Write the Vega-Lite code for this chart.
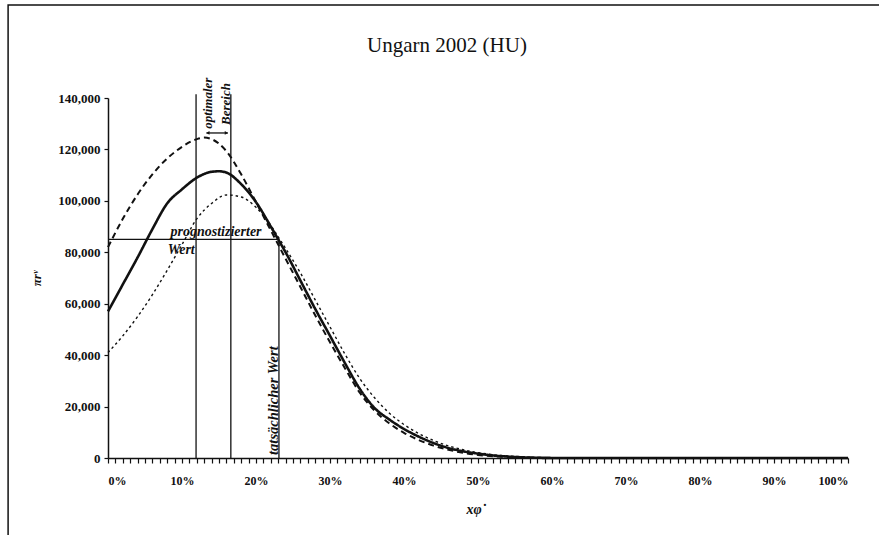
{
  "$schema": "https://vega.github.io/schema/vega-lite/v6.json",
  "width": 740,
  "height": 360,
  "autosize": {"type": "none"},
  "padding": {"left": 108, "top": 98, "right": 31, "bottom": 77},
  "background": "white",
  "config": {
    "view": {"stroke": null},
    "font": "Liberation Serif",
    "axis": {"grid": false, "domainColor": "#111", "tickColor": "#111", "labelColor": "#111", "titleColor": "#111", "labelFont": "Liberation Serif", "titleFont": "Liberation Serif"}
  },
  "title": {
    "text": "Ungarn 2002 (HU)",
    "font": "Liberation Serif",
    "fontSize": 21,
    "fontWeight": "normal",
    "color": "#111",
    "anchor": "middle",
    "frame": "group",
    "baseline": "alphabetic",
    "offset": 0,
    "dy": 69,
    "dx": -31
  },
  "datasets": {
    "curves": [
      {"s": "Ist", "x": 0, "y": 57000}, {"s": "Ist", "x": 0.02, "y": 67500}, {"s": "Ist", "x": 0.04, "y": 78000}, {"s": "Ist", "x": 0.06, "y": 89000}, {"s": "Ist", "x": 0.08, "y": 99000}, {"s": "Ist", "x": 0.10, "y": 104500}, {"s": "Ist", "x": 0.12, "y": 109000}, {"s": "Ist", "x": 0.14, "y": 111300}, {"s": "Ist", "x": 0.15, "y": 111500}, {"s": "Ist", "x": 0.16, "y": 111000}, {"s": "Ist", "x": 0.18, "y": 106500}, {"s": "Ist", "x": 0.20, "y": 99500}, {"s": "Ist", "x": 0.22, "y": 90000}, {"s": "Ist", "x": 0.23, "y": 85000}, {"s": "Ist", "x": 0.24, "y": 80000}, {"s": "Ist", "x": 0.26, "y": 69000}, {"s": "Ist", "x": 0.28, "y": 58000}, {"s": "Ist", "x": 0.30, "y": 47500}, {"s": "Ist", "x": 0.32, "y": 37000}, {"s": "Ist", "x": 0.34, "y": 27000}, {"s": "Ist", "x": 0.36, "y": 19500}, {"s": "Ist", "x": 0.38, "y": 15000}, {"s": "Ist", "x": 0.40, "y": 11300}, {"s": "Ist", "x": 0.42, "y": 8300}, {"s": "Ist", "x": 0.44, "y": 5800}, {"s": "Ist", "x": 0.46, "y": 3900}, {"s": "Ist", "x": 0.48, "y": 2600}, {"s": "Ist", "x": 0.50, "y": 1700}, {"s": "Ist", "x": 0.52, "y": 1000}, {"s": "Ist", "x": 0.55, "y": 400}, {"s": "Ist", "x": 0.58, "y": 100}, {"s": "Ist", "x": 0.62, "y": 0}, {"s": "Ist", "x": 0.70, "y": 0}, {"s": "Ist", "x": 0.80, "y": 0}, {"s": "Ist", "x": 0.90, "y": 0}, {"s": "Ist", "x": 1.0, "y": 0},
      {"s": "Oben", "x": 0, "y": 82000}, {"s": "Oben", "x": 0.02, "y": 93000}, {"s": "Oben", "x": 0.04, "y": 102500}, {"s": "Oben", "x": 0.06, "y": 110300}, {"s": "Oben", "x": 0.08, "y": 116500}, {"s": "Oben", "x": 0.10, "y": 121000}, {"s": "Oben", "x": 0.12, "y": 124000}, {"s": "Oben", "x": 0.13, "y": 124600}, {"s": "Oben", "x": 0.14, "y": 124000}, {"s": "Oben", "x": 0.16, "y": 119300}, {"s": "Oben", "x": 0.18, "y": 110300}, {"s": "Oben", "x": 0.20, "y": 99500}, {"s": "Oben", "x": 0.22, "y": 88500}, {"s": "Oben", "x": 0.23, "y": 83000}, {"s": "Oben", "x": 0.24, "y": 77500}, {"s": "Oben", "x": 0.26, "y": 66500}, {"s": "Oben", "x": 0.28, "y": 55500}, {"s": "Oben", "x": 0.30, "y": 45000}, {"s": "Oben", "x": 0.32, "y": 35000}, {"s": "Oben", "x": 0.34, "y": 25500}, {"s": "Oben", "x": 0.36, "y": 18500}, {"s": "Oben", "x": 0.38, "y": 13500}, {"s": "Oben", "x": 0.40, "y": 9800}, {"s": "Oben", "x": 0.42, "y": 7000}, {"s": "Oben", "x": 0.44, "y": 4800}, {"s": "Oben", "x": 0.46, "y": 3200}, {"s": "Oben", "x": 0.48, "y": 2000}, {"s": "Oben", "x": 0.50, "y": 1200}, {"s": "Oben", "x": 0.52, "y": 700}, {"s": "Oben", "x": 0.55, "y": 250}, {"s": "Oben", "x": 0.58, "y": 50}, {"s": "Oben", "x": 0.62, "y": 0}, {"s": "Oben", "x": 0.70, "y": 0}, {"s": "Oben", "x": 0.80, "y": 0}, {"s": "Oben", "x": 0.90, "y": 0}, {"s": "Oben", "x": 1.0, "y": 0},
      {"s": "Unten", "x": 0, "y": 41000}, {"s": "Unten", "x": 0.02, "y": 47500}, {"s": "Unten", "x": 0.04, "y": 55000}, {"s": "Unten", "x": 0.06, "y": 63500}, {"s": "Unten", "x": 0.08, "y": 73000}, {"s": "Unten", "x": 0.10, "y": 83000}, {"s": "Unten", "x": 0.12, "y": 93000}, {"s": "Unten", "x": 0.14, "y": 99000}, {"s": "Unten", "x": 0.16, "y": 102300}, {"s": "Unten", "x": 0.18, "y": 101500}, {"s": "Unten", "x": 0.20, "y": 97500}, {"s": "Unten", "x": 0.22, "y": 90500}, {"s": "Unten", "x": 0.23, "y": 86000}, {"s": "Unten", "x": 0.24, "y": 81500}, {"s": "Unten", "x": 0.26, "y": 72000}, {"s": "Unten", "x": 0.28, "y": 61500}, {"s": "Unten", "x": 0.30, "y": 51000}, {"s": "Unten", "x": 0.32, "y": 40500}, {"s": "Unten", "x": 0.34, "y": 31000}, {"s": "Unten", "x": 0.36, "y": 23500}, {"s": "Unten", "x": 0.38, "y": 17500}, {"s": "Unten", "x": 0.40, "y": 13000}, {"s": "Unten", "x": 0.42, "y": 9500}, {"s": "Unten", "x": 0.44, "y": 6800}, {"s": "Unten", "x": 0.46, "y": 4700}, {"s": "Unten", "x": 0.48, "y": 3200}, {"s": "Unten", "x": 0.50, "y": 2100}, {"s": "Unten", "x": 0.52, "y": 1300}, {"s": "Unten", "x": 0.55, "y": 600}, {"s": "Unten", "x": 0.58, "y": 200}, {"s": "Unten", "x": 0.62, "y": 50}, {"s": "Unten", "x": 0.66, "y": 0}, {"s": "Unten", "x": 0.70, "y": 0}, {"s": "Unten", "x": 0.80, "y": 0}, {"s": "Unten", "x": 0.90, "y": 0}, {"s": "Unten", "x": 1.0, "y": 0}
    ],
    "frame": [{"x": -0.135, "x2": 1.3, "y": -40000, "y2": 176200}],
    "rules": [
      {"x": 0.119, "x2": 0.119, "y": 0, "y2": 141500},
      {"x": 0.166, "x2": 0.166, "y": 0, "y2": 141500},
      {"x": 0.231, "x2": 0.231, "y": 0, "y2": 85000},
      {"x": 0, "x2": 0.231, "y": 85000, "y2": 85000},
      {"x": 0.133, "x2": 0.162, "y": 126400, "y2": 126400}
    ],
    "headL": [{"x": 0.135, "y": 126400}],
    "headR": [{"x": 0.160, "y": 126400}],
    "rot": [
      {"x": 0.1345, "y": 128000, "t": "optimaler"},
      {"x": 0.159, "y": 129500, "t": "Bereich"}
    ],
    "rot2": [{"x": 0.2245, "y": 1200, "t": "tatsächlicher Wert"}],
    "flat": [
      {"x": 0.146, "y": 87900, "t": "prognostizierter"}
    ],
    "flat2": [
      {"x": 0.099, "y": 80900, "t": "Wert"}
    ]
  },
  "encoding": {
    "x": {
      "field": "x", "type": "quantitative",
      "scale": {"domain": [0, 1], "nice": false, "zero": false},
      "axis": {
        "title": "xφ˙",
        "titleFontSize": 14, "titleFontStyle": "italic", "titleFontWeight": "bold",
        "titleX": 368, "titleY": 55, "titleBaseline": "alphabetic", "titleAlign": "center",
        "values": [0,0.01,0.02,0.03,0.04,0.05,0.06,0.07,0.08,0.09,0.1,0.11,0.12,0.13,0.14,0.15,0.16,0.17,0.18,0.19,0.2,0.21,0.22,0.23,0.24,0.25,0.26,0.27,0.28,0.29,0.3,0.31,0.32,0.33,0.34,0.35,0.36,0.37,0.38,0.39,0.4,0.41,0.42,0.43,0.44,0.45,0.46,0.47,0.48,0.49,0.5,0.51,0.52,0.53,0.54,0.55,0.56,0.57,0.58,0.59,0.6,0.61,0.62,0.63,0.64,0.65,0.66,0.67,0.68,0.69,0.7,0.71,0.72,0.73,0.74,0.75,0.76,0.77,0.78,0.79,0.8,0.81,0.82,0.83,0.84,0.85,0.86,0.87,0.88,0.89,0.9,0.91,0.92,0.93,0.94,0.95,0.96,0.97,0.98,0.99,1],
        "labelExpr": "round(datum.value*100) % 10 === 0 ? format(datum.value, '.0%') : ''",
        "labelOverlap": false,
        "labelFontSize": 12,
        "labelFontWeight": "bold",
        "labelPadding": 12,
        "tickSize": 5,
        "tickWidth": 1.2,
        "domainWidth": 1.5
      }
    },
    "y": {
      "field": "y", "type": "quantitative",
      "scale": {"domain": [0, 140000], "nice": false},
      "axis": {
        "title": "πrᵛ",
        "titleFontSize": 13, "titleFontStyle": "italic", "titleFontWeight": "bold",
        "titleAngle": 270, "titleX": -72, "titleY": 180, "titleAlign": "center", "titleBaseline": "middle",
        "values": [0, 20000, 40000, 60000, 80000, 100000, 120000, 140000],
        "format": ",d",
        "labelFontSize": 13,
        "labelFontWeight": "bold",
        "labelPadding": 4,
        "tickSize": 4,
        "tickWidth": 1.2,
        "domainWidth": 1.5
      }
    }
  },
  "layer": [
    {
      "data": {"name": "frame"},
      "mark": {"type": "rect", "fill": null, "stroke": "#111", "strokeWidth": 1.5},
      "encoding": {"x2": {"field": "x2"}, "y2": {"field": "y2"}}
    },
    {
      "data": {"name": "rules"},
      "mark": {"type": "rule", "color": "#111", "strokeWidth": 1.3},
      "encoding": {"x2": {"field": "x2"}, "y2": {"field": "y2"}}
    },
    {
      "data": {"name": "curves"},
      "mark": {"type": "line", "color": "#111", "interpolate": "monotone"},
      "encoding": {
        "detail": {"field": "s"},
        "strokeDash": {"field": "s", "type": "nominal", "scale": {"domain": ["Ist", "Oben", "Unten"], "range": [[1, 0], [6, 4], [2.5, 3]]}, "legend": null},
        "strokeWidth": {"field": "s", "type": "nominal", "scale": {"domain": ["Ist", "Oben", "Unten"], "range": [2.6, 1.4, 1.5]}, "legend": null}
      }
    },
    {
      "data": {"name": "headL"},
      "mark": {"type": "point", "shape": "triangle-left", "filled": true, "color": "#111", "size": 14, "opacity": 1}
    },
    {
      "data": {"name": "headR"},
      "mark": {"type": "point", "shape": "triangle-right", "filled": true, "color": "#111", "size": 14, "opacity": 1}
    },
    {
      "data": {"name": "rot"},
      "mark": {"type": "text", "angle": 270, "align": "left", "baseline": "middle", "font": "Liberation Serif", "fontSize": 13, "fontStyle": "italic", "fontWeight": "bold", "color": "#111"},
      "encoding": {"text": {"field": "t"}}
    },
    {
      "data": {"name": "rot2"},
      "mark": {"type": "text", "angle": 270, "align": "left", "baseline": "middle", "font": "Liberation Serif", "fontSize": 14.5, "fontStyle": "italic", "fontWeight": "bold", "color": "#111"},
      "encoding": {"text": {"field": "t"}}
    },
    {
      "data": {"name": "flat"},
      "mark": {"type": "text", "align": "center", "baseline": "middle", "font": "Liberation Serif", "fontSize": 14, "fontStyle": "italic", "fontWeight": "bold", "color": "#111"},
      "encoding": {"text": {"field": "t"}}
    },
    {
      "data": {"name": "flat2"},
      "mark": {"type": "text", "align": "center", "baseline": "middle", "font": "Liberation Serif", "fontSize": 14, "fontStyle": "italic", "fontWeight": "bold", "color": "#111"},
      "encoding": {"text": {"field": "t"}}
    }
  ]
}
